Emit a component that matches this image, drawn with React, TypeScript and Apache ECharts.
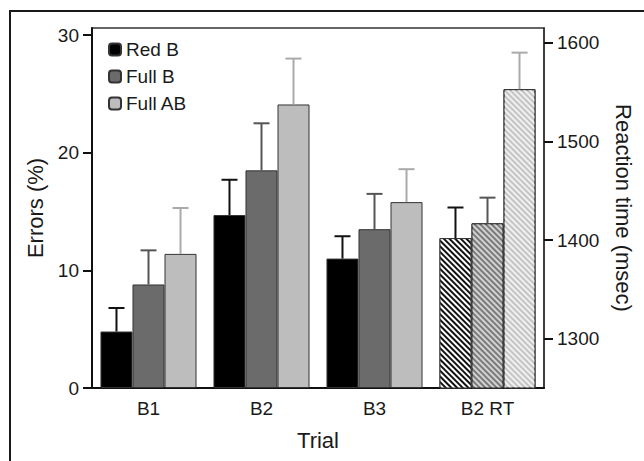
import React, { useEffect, useRef } from "react";
import * as echarts from "echarts";

const categories = ["B1", "B2", "B3", "B2 RT"];
const legendNames = ["Red B", "Full B", "Full AB"];
// Errors (%) for B1-B3
const redB = [4.8, 14.7, 11.0];
const redBErr = [6.8, 17.7, 12.9];
const fullB = [8.8, 18.5, 13.5];
const fullBErr = [11.7, 22.5, 16.5];
const fullAB = [11.4, 24.1, 15.8];
const fullABErr = [15.3, 28.0, 18.6];
// Reaction time (msec) for B2 RT
const rtMeans = [1402, 1417, 1553];
const rtErr = [1433, 1443, 1590];
const leftTicks = [0, 10, 20, 30];
const rightTicks = [1300, 1400, 1500, 1600];

const FONT = "Liberation Sans";
const fills = ["#000000", "#6b6b6b", "#bdbdbd"];
const errColors = ["#111111", "#555555", "#aaaaaa"];
const hatchBase = ["#111111", "#7a7a7a", "#c4c4c4"];
const hatchStripe = ["#ffffff", "#d2d2d2", "#f0f0f0"];
const CAT_GAP = 0.15;

export default function App() {
  const ref = useRef<HTMLDivElement>(null);
  useEffect(() => {
    if (!ref.current) return;
    const chart = echarts.init(ref.current, null, { renderer: "svg" });

    const mainSets = [redB, fullB, fullAB];
    const mainErr = [redBErr, fullBErr, fullABErr];

    const barSeries: any[] = mainSets.map((arr, i) => ({
      name: legendNames[i],
      type: "bar",
      xAxisIndex: 0,
      yAxisIndex: 0,
      barGap: "0%",
      barCategoryGap: CAT_GAP * 100 + "%",
      data: [...arr, "-"],
      itemStyle: { color: fills[i], borderColor: "#333", borderWidth: 1 },
    }));

    const rtSeries: any[] = rtMeans.map((v, i) => ({
      name: legendNames[i] + " RT",
      type: "bar",
      xAxisIndex: 1,
      yAxisIndex: 1,
      barGap: "0%",
      barCategoryGap: CAT_GAP * 100 + "%",
      data: ["-", "-", "-", v],
      itemStyle: {
        color: hatchBase[i],
        borderColor: "#333",
        borderWidth: 1,
        decal: {
          symbol: "rect",
          symbolSize: 1,
          dashArrayX: [1, 0],
          dashArrayY: [2, 2],
          rotation: Math.PI / 4,
          color: hatchStripe[i],
        },
      },
    }));

    const errData: any[] = [];
    mainErr.forEach((arr, s) =>
      arr.forEach((u, c) => errData.push([c, s, mainSets[s][c], u]))
    );
    const rtErrData: any[] = rtMeans.map((m, s) => [3, s, m, rtErr[s]]);

    const renderErr = (params: any, api: any) => {
      const cat = api.value(0);
      const s = api.value(1);
      const mean = api.value(2);
      const up = api.value(3);
      const p0 = api.coord([cat, mean]);
      const p1 = api.coord([cat, up]);
      const band = api.size([1, 0])[0];
      const barW = (band * (1 - CAT_GAP)) / 3;
      const x = p0[0] + (s - 1) * barW;
      const style = { stroke: errColors[s], lineWidth: 2 };
      return {
        type: "group",
        children: [
          { type: "line", shape: { x1: x, y1: p0[1], x2: x, y2: p1[1] }, style },
          { type: "line", shape: { x1: x - 8, y1: p1[1], x2: x + 8, y2: p1[1] }, style },
        ],
      };
    };

    const option: any = {
      animation: false,
      textStyle: { fontFamily: FONT },
      grid: {
        left: 92,
        right: 100,
        top: 28,
        bottom: 73,
        show: true,
        borderColor: "#333",
        borderWidth: 1.5,
        backgroundColor: "transparent",
      },
      legend: {
        data: legendNames,
        orient: "vertical",
        left: 108,
        top: 40,
        padding: 0,
        itemWidth: 12,
        itemHeight: 12,
        itemGap: 8,
        selectedMode: false,
        textStyle: { fontFamily: FONT, fontSize: 19, color: "#1a1a1a", lineHeight: 19 },
      },
      graphic: [
        {
          type: "rect",
          shape: { x: 10, y: 11, width: 700, height: 500 },
          style: { fill: "none", stroke: "#1a1a1a", lineWidth: 2 },
          silent: true,
        },
      ],
      xAxis: [
        {
          type: "category",
          data: categories,
          gridIndex: 0,
          position: "bottom",
          name: "Trial",
          nameLocation: "middle",
          nameGap: 41,
          nameTextStyle: { fontFamily: FONT, fontSize: 22, color: "#1a1a1a" },
          axisLine: { lineStyle: { color: "#111", width: 2 } },
          axisTick: { alignWithLabel: true, length: 6, lineStyle: { color: "#111", width: 2 } },
          axisLabel: { fontFamily: FONT, fontSize: 19, color: "#1a1a1a", margin: 11 },
        },
        {
          type: "category",
          data: categories,
          gridIndex: 0,
          position: "bottom",
          show: false,
        },
      ],
      yAxis: [
        {
          type: "value",
          position: "left",
          min: 0,
          max: 30.6,
          name: "Errors (%)",
          nameLocation: "middle",
          nameGap: 44,
          nameTextStyle: { fontFamily: FONT, fontSize: 22, color: "#1a1a1a" },
          splitLine: { show: false },
          axisLine: { show: true, lineStyle: { color: "#111", width: 2 } },
          axisTick: { show: true, length: 9, customValues: leftTicks, lineStyle: { color: "#111", width: 2 } },
          axisLabel: { fontFamily: FONT, fontSize: 19, color: "#1a1a1a", margin: 13, customValues: leftTicks },
        },
        {
          type: "value",
          position: "right",
          min: 1250,
          max: 1615,
          name: "Reaction time (msec)",
          nameLocation: "middle",
          nameRotate: -90,
          nameGap: 68,
          nameTextStyle: { fontFamily: FONT, fontSize: 22, color: "#1a1a1a" },
          splitLine: { show: false },
          axisLine: { show: true, lineStyle: { color: "#333", width: 1.5 } },
          axisTick: { show: true, length: 9, customValues: rightTicks, lineStyle: { color: "#111", width: 2 } },
          axisLabel: {
            fontFamily: FONT,
            fontSize: 19,
            color: "#1a1a1a",
            margin: 13,
            customValues: rightTicks,
            formatter: (v: number) => String(v),
          },
        },
      ],
      series: [
        ...barSeries,
        ...rtSeries,
        {
          type: "custom",
          name: "err",
          xAxisIndex: 0,
          yAxisIndex: 0,
          renderItem: renderErr,
          encode: { x: 0, y: [2, 3] },
          data: errData,
          z: 3,
        },
        {
          type: "custom",
          name: "errRT",
          xAxisIndex: 1,
          yAxisIndex: 1,
          renderItem: renderErr,
          encode: { x: 0, y: [2, 3] },
          data: rtErrData,
          z: 3,
        },
      ],
    };
    chart.setOption(option);
    return () => chart.dispose();
  }, []);

  return (
    <div style={{ position: "fixed", left: 0, top: 0, width: 644, height: 461, background: "#fff" }}>
      <div ref={ref} style={{ width: 644, height: 461 }} />
    </div>
  );
}
